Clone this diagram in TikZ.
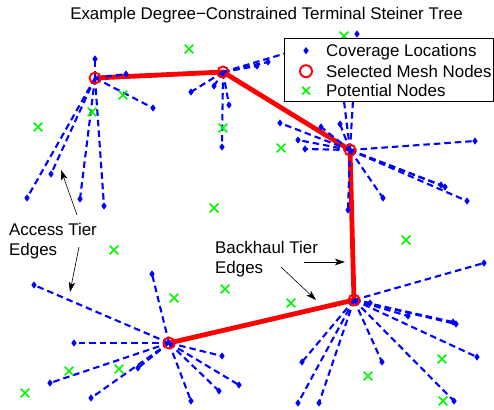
\documentclass[tikz,border=0pt]{standalone}
\usepackage{fontspec}
\setmainfont{Liberation Sans}
\usetikzlibrary{arrows.meta,shapes.geometric,shapes.misc,backgrounds}

\definecolor{tierblue}{RGB}{0,0,255}
\definecolor{tierred}{RGB}{255,0,0}
\definecolor{potgreen}{RGB}{0,245,0}

\tikzset{
  lbl/.style={font=\fontsize{16.9}{20}\selectfont, inner sep=0pt},
  backhaul/.style={draw=tierred, line width=4.8pt},
  access/.style={draw=tierblue, line width=2.1pt, dash pattern=on 6.5pt off 4pt},
  hub/.style={circle, draw=tierred, line width=1.9pt, minimum size=11pt, inner sep=0pt},
  cover/.style={diamond, fill=tierblue, inner sep=0pt, minimum width=5.5pt, minimum height=7.5pt},
  potential/.style={cross out, draw=potgreen, line width=1.7pt, minimum size=7pt, inner sep=0pt},
  callout/.style={draw=black, line width=0.6pt, -{Stealth[length=10pt,width=6.5pt,inset=2.5pt]}}
}

\begin{document}
\begin{tikzpicture}[x=1pt,y=-1pt]
\useasboundingbox (0,0) rectangle (494,409);

% selected mesh nodes
\node[hub] (A) at (95,78) {};
\node[hub] (B) at (223,72) {};
\node[hub] (C) at (350,150) {};
\node[hub] (D) at (354,300) {};
\node[hub] (E) at (169,343) {};

% coverage locations
\foreach \n/\x/\y in {
  a1/95/59, a2/126/74, a3/153/108, a4/27/198, a5/51/174, a6/80/199, a7/104/206,
  b1/191/92, b2/214/86, b3/229/105, b4/222/147, b5/257/66, b6/268/62, b7/310/46,
  c1/280/123, c2/321/127, c3/340/124, c4/298/140, c5/305/149, c6/357/34, c7/342/85,
  c8/475/141, c9/445/187, c10/467/201, c11/383/198, c12/348/210, c13/441/185,
  d1/484/263, d2/370/303, d3/408/316, d4/453/322, d5/477/357, d6/454/401,
  d7/382/362, d8/302/362, d9/298/403, d10/319/403, d11/456/324,
  e1/34/285, e2/152/274, e3/74/343, e4/50/383, e5/91/398, e6/138/368,
  e7/191/401, e8/222/356, e9/219/391, e10/239/385}
  \node[cover] (\n) at (\x,\y) {};

% potential nodes
\foreach \n/\x/\y in {
  g1/189/49, g2/123/95, g3/92/112, g4/38/127, g5/223/128, g6/214/208,
  g7/344/36, g8/281/148, g9/114/250, g10/174/298, g11/225/289, g12/69/371,
  g13/119/369, g14/25/393, g15/406/240, g16/291/303, g17/368/376, g18/442/359,
  g19/443/401}
  \node[potential] (\n) at (\x,\y) {};

\begin{scope}[on background layer]
  % backhaul tier
  \draw[backhaul] (A.center) -- (B.center) -- (C.center) -- (D.center) -- (E.center);
  % access tier
  \foreach \h/\n in {A/a1,A/a2,A/a3,A/a4,A/a5,A/a6,A/a7,
                     B/b1,B/b2,B/b3,B/b4,B/b5,B/b6,B/b7,
                     C/c1,C/c2,C/c3,C/c4,C/c5,C/c6,C/c7,C/c8,C/c9,C/c10,C/c11,C/c12,C/c13,
                     D/d1,D/d2,D/d3,D/d4,D/d5,D/d6,D/d7,D/d8,D/d9,D/d10,D/d11,
                     E/e1,E/e2,E/e3,E/e4,E/e5,E/e6,E/e7,E/e8,E/e9,E/e10}
    \draw[access] (\h.center) -- (\n.center);
\end{scope}

% title
\node[lbl, anchor=base] (title) at (266.5,19.2) {Example Degree−Constrained Terminal Steiner Tree};

% legend
\node[draw=black, line width=0.8pt, fill=white, anchor=north west,
      minimum width=209pt, minimum height=63pt, inner sep=0pt] (legend) at (284,38) {};
\node[cover] (legcov) at (306,50.7) {};
\node[hub, minimum size=12pt] (leghub) at (306,71.2) {};
\node[potential, minimum size=6pt] (legpot) at (306,90.7) {};
\node[lbl, anchor=base west] (legt1) at (326,56.7) {Coverage Locations};
\node[lbl, anchor=base west] (legt2) at (326,77.3) {Selected Mesh Nodes};
\node[lbl, anchor=base west] (legt3) at (326,96.9) {Potential Nodes};

% annotations
\node[lbl, anchor=north west, align=left] (acc) at (9,223.3) {Access Tier\\Edges};
\node[lbl, anchor=north west, align=left] (bh) at (215,241) {Backhaul Tier\\Edges};

\coordinate (accup) at (77,215);
\coordinate (accuptip) at (61,170);
\coordinate (accdn) at (79,247);
\coordinate (accdntip) at (70,292);
\coordinate (bhright) at (304,262);
\coordinate (bhrighttip) at (345,262);
\coordinate (bhdn) at (281,267);
\coordinate (bhdntip) at (316,300);

\draw[callout] (accup) -- (accuptip);
\draw[callout] (accdn) -- (accdntip);
\draw[callout] (bhright) -- (bhrighttip);
\draw[callout] (bhdn) -- (bhdntip);
\end{tikzpicture}
\end{document}
